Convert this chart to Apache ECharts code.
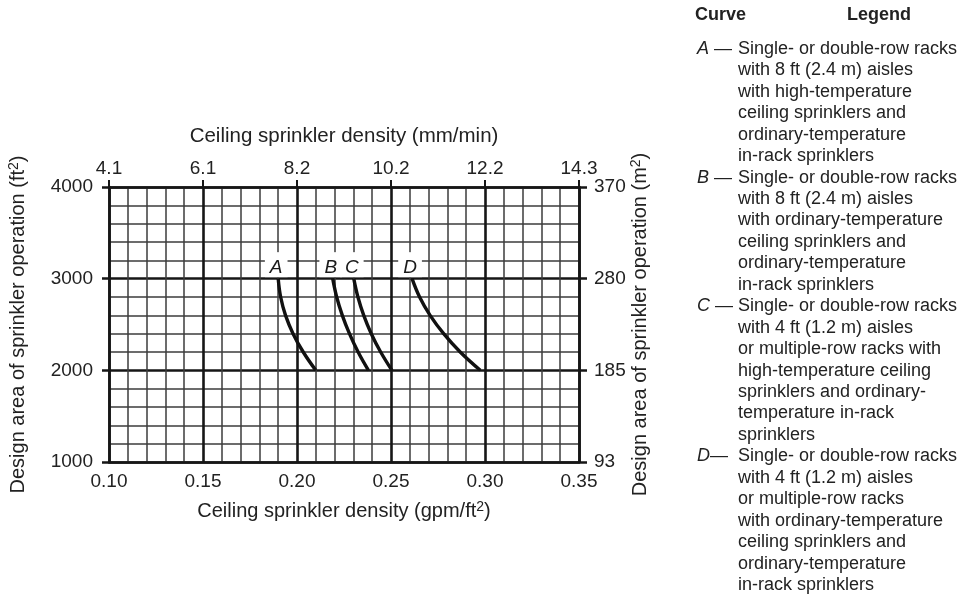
<!DOCTYPE html>
<html><head><meta charset="utf-8">
<script src="https://cdn.jsdelivr.net/npm/echarts@6/dist/echarts.min.js"></script>
<style>html,body{margin:0;padding:0;background:#fff}#c{width:958px;height:596px}</style>
</head><body><div id="c"></div>
<script>
// ---- data ----
const densityTicks = [0.10, 0.15, 0.20, 0.25, 0.30, 0.35];
const mmTickLabels = ['4.1', '6.1', '8.2', '10.2', '12.2', '14.3'];
const areaTicks = [1000, 2000, 3000, 4000];
const m2TickLabels = ['93', '185', '280', '370'];
const curveNames = ['A', 'B', 'C', 'D'];
const curveA_x = [0.190, 0.1913, 0.1939, 0.1979, 0.2033, 0.210];
const curveA_y = [3000, 2800, 2600, 2400, 2200, 2000];
const curveB_x = [0.219, 0.2211, 0.2241, 0.2279, 0.2325, 0.238];
const curveB_y = [3000, 2800, 2600, 2400, 2200, 2000];
const curveC_x = [0.2302, 0.2324, 0.2355, 0.2395, 0.2445, 0.2505];
const curveC_y = [3000, 2800, 2600, 2400, 2200, 2000];
const curveD_x = [0.2612, 0.2652, 0.2708, 0.278, 0.2868, 0.2975];
const curveD_y = [3000, 2800, 2600, 2400, 2200, 2000];
const legendLetters = ['A', 'B', 'C', 'D'];
const legendA = ['Single- or double-row racks', 'with 8 ft (2.4 m) aisles', 'with high-temperature', 'ceiling sprinklers and', 'ordinary-temperature', 'in-rack sprinklers'];
const legendB = ['Single- or double-row racks', 'with 8 ft (2.4 m) aisles', 'with ordinary-temperature', 'ceiling sprinklers and', 'ordinary-temperature', 'in-rack sprinklers'];
const legendC = ['Single- or double-row racks', 'with 4 ft (1.2 m) aisles', 'or multiple-row racks with', 'high-temperature ceiling', 'sprinklers and ordinary-', 'temperature in-rack', 'sprinklers'];
const legendD = ['Single- or double-row racks', 'with 4 ft (1.2 m) aisles', 'or multiple-row racks', 'with ordinary-temperature', 'ceiling sprinklers and', 'ordinary-temperature', 'in-rack sprinklers'];

// ---- chart ----
const FONT = '"Liberation Sans", Arial, Helvetica, sans-serif';
const TXT = '#222';
const MAJOR = { color: '#161616', width: 2.6 };
const MINOR = { color: '#3c3c3c', width: 1.5 };

function lookup(ticks, labels) {
  return function (v) {
    const i = ticks.findIndex(t => Math.abs(t - v) < 1e-6);
    return i >= 0 ? labels[i] : '';
  };
}

const curvesX = [curveA_x, curveB_x, curveC_x, curveD_x];
const curvesY = [curveA_y, curveB_y, curveC_y, curveD_y];

const series = curveNames.map((name, k) => ({
  type: 'line',
  name: name,
  smooth: 0.4,
  symbol: 'none',
  lineStyle: { color: '#111', width: 3.4 },
  z: 5,
  data: curvesX[k].map((x, i) => [x, curvesY[k][i]])
}));

// curve letters at the upper end of each curve
series.push({
  type: 'scatter',
  name: 'curve labels',
  symbol: 'rect', symbolSize: 0.01,
  z: 6,
  emphasis: { disabled: true },
  itemStyle: { color: '#ffffff', opacity: 1 },
  label: {
    show: true, position: 'top', distance: 1.5, offset: [-2, 0],
    formatter: p => p.data.name,
    fontFamily: FONT, fontStyle: 'italic', fontSize: 19, color: '#1a1a1a', opacity: 1,
    backgroundColor: '#ffffff', padding: [7, 5, 1, 5], lineHeight: 17
  },
  data: curveNames.map((n, k) => ({ name: n, value: [curvesX[k][0], curvesY[k][0]] }))
});

const gfx = [];
gfx.push({ type: 'text', left: 695, top: 6, style: { text: 'Curve', font: 'bold 18px ' + FONT, fill: TXT } });
gfx.push({ type: 'text', left: 847, top: 6, style: { text: 'Legend', font: 'bold 18px ' + FONT, fill: TXT } });
const blocks = [legendA, legendB, legendC, legendD];
let line = 0;
const LH = 21.44, Y0 = 49;
blocks.forEach((lines, b) => {
  const yc = Y0 + line * LH;
  gfx.push({
    type: 'text', x: 697, y: yc,
    style: {
      text: '{i|' + legendLetters[b] + '}' + (b === 3 ? '—' : ' —'),
      font: '18px ' + FONT, fill: TXT, verticalAlign: 'middle',
      rich: { i: { fontStyle: 'italic', fontSize: 18, fontFamily: FONT, fill: TXT } }
    }
  });
  lines.forEach(t => {
    gfx.push({
      type: 'text', x: 738, y: Y0 + line * LH,
      style: { text: t, font: '18px ' + FONT, fill: TXT, verticalAlign: 'middle' }
    });
    line++;
  });
});

const supStyle = { fontSize: 14, lineHeight: 14, verticalAlign: 'top', padding: [0, 0, 8, 0], fontFamily: FONT, color: TXT };

const option = {
  backgroundColor: '#fff',
  animation: false,
  grid: { left: 109, right: 379, top: 187, bottom: 134, containLabel: false },
  xAxis: [
    {
      type: 'value', position: 'bottom', min: 0.10, max: 0.35, interval: 0.05,
      axisLine: { show: true, onZero: false, lineStyle: MAJOR },
      axisTick: { show: false },
      axisLabel: { formatter: v => v.toFixed(2), fontSize: 19, fontFamily: FONT, color: TXT, margin: 10 },
      splitLine: { show: true, lineStyle: MAJOR },
      minorTick: { show: false, splitNumber: 5 },
      minorSplitLine: { show: true, lineStyle: MINOR },
      name: 'Ceiling sprinkler density (gpm/ft{sup|2})',
      nameLocation: 'middle', nameGap: 38,
      nameTextStyle: { fontSize: 20, lineHeight: 22, fontFamily: FONT, color: TXT, rich: { sup: supStyle } }
    },
    {
      type: 'value', position: 'top', min: 0.10, max: 0.35, interval: 0.05,
      axisLine: { show: true, onZero: false, lineStyle: MAJOR },
      axisTick: { show: true, inside: false, length: 7, lineStyle: { color: '#161616', width: 2 } },
      axisLabel: { formatter: lookup(densityTicks, mmTickLabels), fontSize: 19, fontFamily: FONT, color: TXT, margin: 9 },
      splitLine: { show: false },
      name: 'Ceiling sprinkler density (mm/min)',
      nameLocation: 'middle', nameGap: 40,
      nameTextStyle: { fontSize: 20.5, fontFamily: FONT, color: TXT }
    }
  ],
  yAxis: [
    {
      type: 'value', position: 'left', min: 1000, max: 4000, interval: 1000,
      axisLine: { show: true, onZero: false, lineStyle: MAJOR },
      axisTick: { show: true, inside: false, length: 7, lineStyle: { color: '#161616', width: 2.5 } },
      axisLabel: { formatter: v => String(v), fontSize: 19, fontFamily: FONT, color: TXT, margin: 16 },
      splitLine: { show: true, lineStyle: MAJOR },
      minorTick: { show: false, splitNumber: 5 },
      minorSplitLine: { show: true, lineStyle: MINOR },
      name: 'Design area of sprinkler operation (ft{sup|2})',
      nameLocation: 'middle', nameGap: 80,
      nameTextStyle: { fontSize: 20, lineHeight: 22, fontFamily: FONT, color: TXT, rich: { sup: supStyle } }
    },
    {
      type: 'value', position: 'right', min: 1000, max: 4000, interval: 1000,
      axisLine: { show: true, onZero: false, lineStyle: MAJOR },
      axisTick: { show: true, inside: false, length: 8, lineStyle: { color: '#161616', width: 2.5 } },
      axisLabel: { formatter: lookup(areaTicks, m2TickLabels), fontSize: 19, fontFamily: FONT, color: TXT, margin: 15 },
      splitLine: { show: false },
      name: 'Design area of sprinkler operation (m{sup|2})',
      nameLocation: 'middle', nameGap: 44,
      nameTextStyle: { fontSize: 20, lineHeight: 22, fontFamily: FONT, color: TXT, rich: { sup: supStyle } }
    }
  ],
  graphic: gfx,
  series: series
};

const chart = echarts.init(document.getElementById('c'), null, { renderer: 'canvas' });
chart.setOption(option);
</script>
</body></html>
